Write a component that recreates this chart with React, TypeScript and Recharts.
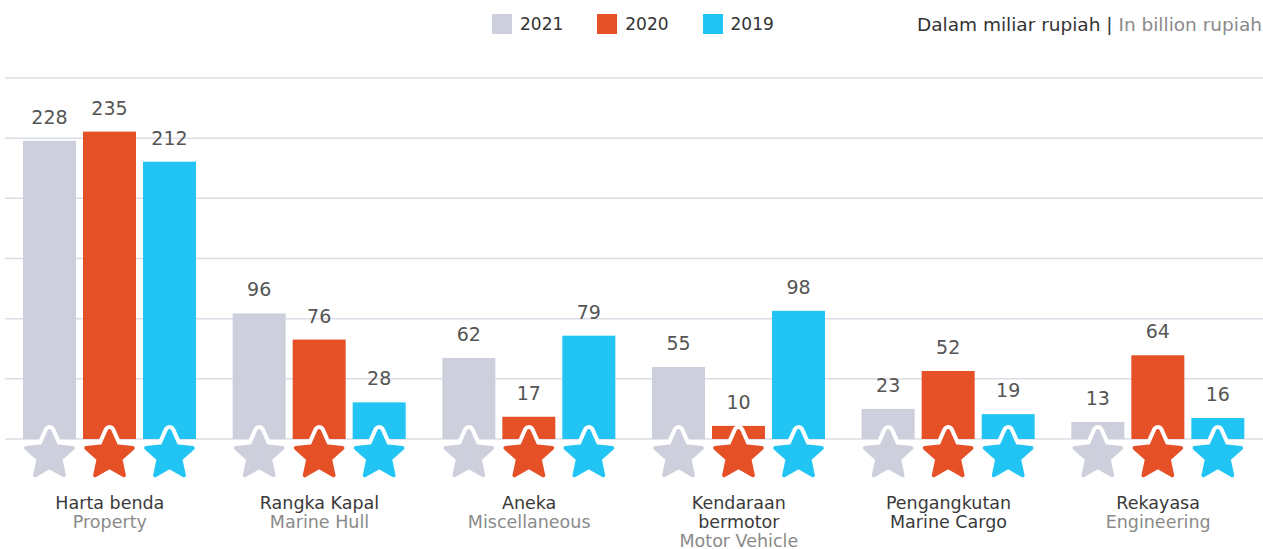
import { BarChart, Bar, XAxis, YAxis, CartesianGrid, LabelList } from "recharts";

const CATEGORIES = ["Harta benda", "Rangka Kapal", "Aneka", "Kendaraan bermotor", "Pengangkutan", "Rekayasa"];
const LABELS_ID = [["Harta benda"], ["Rangka Kapal"], ["Aneka"], ["Kendaraan", "bermotor"], ["Pengangkutan"], ["Rekayasa"]];
const LABELS_EN = ["Property", "Marine Hull", "Miscellaneous", "Motor Vehicle", "Marine Cargo", "Engineering"];
const EN_DARK = [false, false, false, false, true, false];

const VALUES_2021 = [228, 96, 62, 55, 23, 13];
const VALUES_2020 = [235, 76, 17, 10, 52, 64];
const VALUES_2019 = [212, 28, 79, 98, 19, 16];

const Y_TICKS = [0, 46, 92, 138, 184, 230, 276];

const SERIES = [
  { key: "y2021", name: "2021", color: "#CDD0DC" },
  { key: "y2020", name: "2020", color: "#E55027" },
  { key: "y2019", name: "2019", color: "#21C4F3" },
];

const FONT = "'DejaVu Sans', sans-serif";

const data = CATEGORIES.map((c, i) => ({
  name: c,
  y2021: VALUES_2021[i],
  y2020: VALUES_2020[i],
  y2019: VALUES_2019[i],
}));

function starPath(cx: number, cy: number, R: number, r: number) {
  const pts: string[] = [];
  for (let k = 0; k < 10; k++) {
    const rad = k % 2 === 0 ? R : r;
    const a = ((-90 + k * 36) * Math.PI) / 180;
    pts.push(`${(cx + rad * Math.cos(a)).toFixed(2)},${(cy + rad * Math.sin(a)).toFixed(2)}`);
  }
  return "M" + pts.join("L") + "Z";
}

function StarBar(props: any) {
  const { x, y, width, height, fill } = props;
  const base = y + height;
  const cx = x + width / 2;
  const cy = base + 16.5;
  const d = starPath(cx, cy, 24.5, 11.5);
  return (
    <g>
      <rect x={x} y={y} width={width} height={height} fill={fill} />
      <path d={d} fill="#fff" stroke="#fff" strokeWidth={12} strokeLinejoin="round" />
      <path d={d} fill={fill} stroke={fill} strokeWidth={4} strokeLinejoin="round" />
    </g>
  );
}

function CategoryTick(props: any) {
  const { x, y, index } = props;
  const idLines = LABELS_ID[index] || [];
  return (
    <g>
      {idLines.map((t, i) => (
        <text key={i} x={x} y={y + 62 + i * 19} textAnchor="middle" fontSize={17.5} fill="#3a3a3a" fontFamily={FONT}>
          {t}
        </text>
      ))}
      <text
        x={x}
        y={y + 62 + idLines.length * 19}
        textAnchor="middle"
        fontSize={17.5}
        fill={EN_DARK[index] ? "#3a3a3a" : "#8a8a8a"}
        fontFamily={FONT}
      >
        {LABELS_EN[index]}
      </text>
    </g>
  );
}

export default function App() {
  return (
    <div style={{ position: "absolute", left: 0, top: 0, width: 1263, height: 549, background: "#fff", fontFamily: FONT }}>
      <BarChart
        width={1263}
        height={549}
        data={data}
        margin={{ top: 78, right: 0, bottom: 30, left: 5 }}
        barSize={53}
        barGap={7}
      >
        <CartesianGrid vertical={false} stroke="#DCDCE6" strokeWidth={1.5} />
        <YAxis hide domain={[0, 276]} ticks={Y_TICKS} />
        <XAxis dataKey="name" axisLine={false} tickLine={false} height={80} tick={<CategoryTick />} interval={0} />
        {SERIES.map((s) => (
          <Bar key={s.key} dataKey={s.key} name={s.name} fill={s.color} shape={<StarBar />} isAnimationActive={false}>
            <LabelList dataKey={s.key} position="top" offset={17} fill="#555" fontSize={19} fontFamily={FONT} />
          </Bar>
        ))}
      </BarChart>
      <div style={{ position: "absolute", top: 14, left: 492, display: "flex", alignItems: "center" }}>
        {SERIES.map((s) => (
          <div key={s.key} style={{ display: "flex", alignItems: "center", marginRight: 34 }}>
            <div style={{ width: 20, height: 20, background: s.color, marginRight: 8 }} />
            <span style={{ fontSize: 17, color: "#333", lineHeight: "20px" }}>{s.name}</span>
          </div>
        ))}
      </div>
      <div style={{ position: "absolute", top: 14, right: 1, fontSize: 18.5, lineHeight: "22px", color: "#333", whiteSpace: "nowrap" }}>
        Dalam miliar rupiah | <span style={{ color: "#8a8a8a" }}>In billion rupiah</span>
      </div>
    </div>
  );
}
